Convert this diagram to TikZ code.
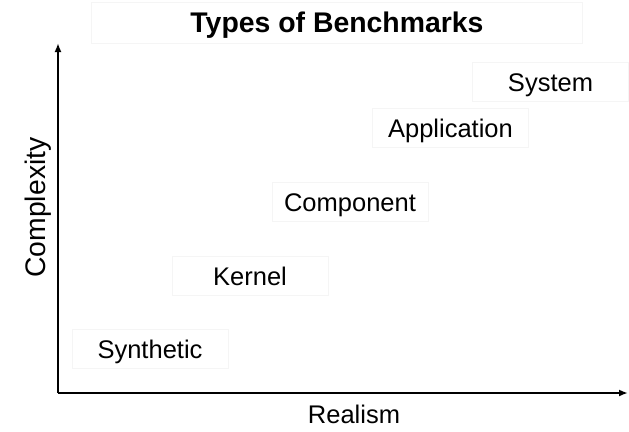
\documentclass[tikz,border=0pt]{standalone}
\usepackage{fontspec}
\setmainfont{Liberation Sans}
\usetikzlibrary{arrows.meta}
\begin{document}
\begin{tikzpicture}[x=1pt,y=-1pt,
  faint/.style={draw=black!4, line width=0.8pt},
  lbl/.style={faint, minimum width=156pt, minimum height=39pt, inner sep=0pt,
    text height=18.3pt, text depth=0pt, font=\fontsize{25.5}{28}\selectfont},
  axislbl/.style={inner sep=0pt, text height=18.3pt, text depth=0pt, font=\fontsize{25.5}{28}\selectfont},
  axis/.style={line width=1.8pt, -{Latex[length=9pt,width=7pt]}}]
\useasboundingbox (0,0) rectangle (629,431);
\node[faint, minimum width=491pt, minimum height=41pt, inner sep=0pt, text height=20.5pt, text depth=0pt,
  font=\bfseries\fontsize{28.4}{30}\selectfont] (title) at (337,22.5) {Types of Benchmarks};
\coordinate (o) at (58,393);
\coordinate (ytop) at (58,43);
\coordinate (xend) at (628,393);
\draw[axis] (o) -- (ytop);
\draw[axis] (o) -- (xend);
\node[lbl] (syn) at (150,349) {Synthetic};
\node[lbl] (ker) at (250,276) {Kernel};
\node[lbl] (com) at (350,202) {Component};
\node[lbl] (app) at (450.5,128) {Application};
\node[lbl] (sys) at (550.5,82) {System};
\node[axislbl, font=\fontsize{28.3}{30}\selectfont, text height=20.3pt, rotate=90] (cpx) at (35,207.5) {Complexity};
\node[axislbl] (real) at (354,414.8) {Realism};
\end{tikzpicture}
\end{document}
